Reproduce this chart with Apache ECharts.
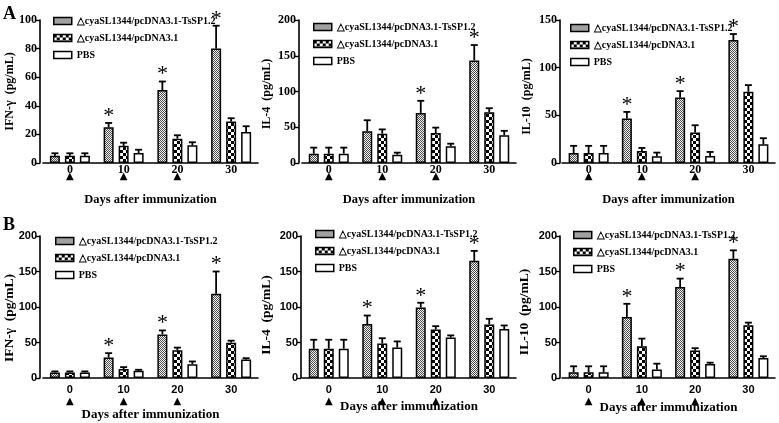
<!DOCTYPE html>
<html><head><meta charset="utf-8">
<script src="https://cdn.jsdelivr.net/npm/echarts@6/dist/echarts.min.js"></script>
<style>html,body{margin:0;padding:0;background:#fff}#c{width:779px;height:423px}</style>
</head><body><div id="c"></div>
<script>
// ---------- DATA ----------
const categories = ['0', '10', '20', '30'];
const immunizationDays = ['0', '10', '20'];
const seriesNames = ['△cyaSL1344/pcDNA3.1-TsSP1.2', '△cyaSL1344/pcDNA3.1', 'PBS'];
const xTitle = 'Days after immunization';

// Panel A - IFN-γ
const aIfnMean = [[5, 25, 51, 80], [5, 12, 17, 29], [5, 7, 12.4, 21.7]];
const aIfnErr  = [[1.8, 3, 6, 16], [1.8, 2.2, 2.4, 2.3], [1.8, 2.3, 2.1, 4]];
const aIfnSig  = [0, 1, 1, 1];
// Panel A - IL-4
const aIl4Mean = [[13, 44.4, 70, 143.5], [13, 41, 42, 71], [13, 11.7, 23.4, 38.8]];
const aIl4Err  = [[8.5, 15.4, 17, 21.5], [8.5, 6, 7.5, 5.6], [8.5, 2.8, 3.6, 6.2]];
const aIl4Sig  = [0, 0, 1, 1];
// Panel A - IL-10
const aIl10Mean = [[10.5, 46.6, 68.7, 129], [10.5, 12.6, 31.9, 74.7], [10.5, 7, 7.4, 19.6]];
const aIl10Err  = [[7.5, 7, 6.7, 6.3], [7.5, 3.2, 7.7, 7], [7.5, 3.9, 4.2, 6.4]];
const aIl10Sig  = [0, 1, 1, 1];
// Panel B - IFN-γ
const bIfnMean = [[7.9, 28.8, 61.4, 118.6], [7.9, 12.6, 39, 49.8], [7.9, 10.2, 19.5, 26]];
const bIfnErr  = [[1.4, 6.2, 5.6, 31.4], [1.4, 2.7, 3.8, 2.8], [1.4, 1.4, 3.8, 1.9]];
const bIfnSig  = [0, 1, 1, 1];
// Panel B - IL-4
const bIl4Mean = [[41.2, 75.9, 99.3, 165], [41.2, 48.7, 68.4, 75.4], [41.2, 43, 57, 68.9]];
const bIl4Err  = [[12.7, 12.1, 6.7, 14], [12.7, 7.3, 4.6, 8], [12.7, 8.5, 3, 5.1]];
const bIl4Sig  = [0, 1, 1, 1];
// Panel B - IL-10
const bIl10Mean = [[8, 86, 128, 168], [8, 44.7, 38.6, 74.4], [8, 11.8, 19.8, 28.2]];
const bIl10Err  = [[8.5, 18.5, 12, 11.8], [8.5, 10.8, 3.4, 3.6], [8.5, 8.4, 1.8, 2.4]];
const bIl10Sig  = [0, 1, 1, 1];

const yTitles = ['IFN-γ  (pg/mL)', 'IL-4  (pg/mL)', 'IL-10  (pg/mL)'];
const yMaxA = [100, 200, 150];
const yStepA = [20, 50, 50];
const yMaxB = [200, 200, 200];
const yStepB = [50, 50, 50];
const panelLetters = ['A', 'B'];

// ---------- LAYOUT / STYLE ----------
const panels = [
  {mean: aIfnMean, err: aIfnErr, sig: aIfnSig, yName: yTitles[0], max: yMaxA[0], step: yStepA[0], row: 0},
  {mean: aIl4Mean, err: aIl4Err, sig: aIl4Sig, yName: yTitles[1], max: yMaxA[1], step: yStepA[1], row: 0},
  {mean: aIl10Mean, err: aIl10Err, sig: aIl10Sig, yName: yTitles[2], max: yMaxA[2], step: yStepA[2], row: 0},
  {mean: bIfnMean, err: bIfnErr, sig: bIfnSig, yName: yTitles[0], max: yMaxB[0], step: yStepB[0], row: 1},
  {mean: bIl4Mean, err: bIl4Err, sig: bIl4Sig, yName: yTitles[1], max: yMaxB[1], step: yStepB[1], row: 1},
  {mean: bIl10Mean, err: bIl10Err, sig: bIl10Sig, yName: yTitles[2], max: yMaxB[2], step: yStepB[2], row: 1}
];
const gridLayout = [
  {left: 43, top: 20, width: 215, height: 143, yOff: 3, yGap: 24, yShift: 0, xGap: 30, lgLeft: 48, lgTop: 10},
  {left: 302, top: 20, width: 214, height: 143, yOff: 3, yGap: 26, yShift: 5, xGap: 30, lgLeft: 308, lgTop: 16},
  {left: 562, top: 20, width: 213, height: 143, yOff: 2, yGap: 27, yShift: 10, xGap: 30, lgLeft: 565, lgTop: 17},
  {left: 43, top: 236, width: 215, height: 142, yOff: 3, yGap: 23, yShift: 22, xGap: 30, lgLeft: 50, lgTop: 230},
  {left: 302, top: 236, width: 214, height: 142, yOff: 1, yGap: 27, yShift: 16, xGap: 22, lgLeft: 310, lgTop: 223},
  {left: 562, top: 236, width: 213, height: 142, yOff: 2, yGap: 28, yShift: 10, xGap: 23, lgLeft: 568, lgTop: 224}
];
const SERIF = 'Liberation Serif';
const SANS = 'Liberation Sans';
const BAR_W = 10;
const BAR_STEP = 15;

function makePattern(kind) {
  const c = document.createElement('canvas');
  const g = c.getContext('2d');
  if (kind === 'fine') {
    c.width = c.height = 2;
    g.fillStyle = '#f0f0f0'; g.fillRect(0, 0, 2, 2);
    g.fillStyle = '#505050'; g.fillRect(0, 0, 1, 1); g.fillRect(1, 1, 1, 1);
  } else {
    c.width = c.height = 6;
    g.fillStyle = '#ffffff'; g.fillRect(0, 0, 6, 6);
    g.fillStyle = '#000000'; g.fillRect(0, 0, 3, 3); g.fillRect(3, 3, 3, 3);
  }
  return {image: c, repetition: 'repeat'};
}
const fills = [makePattern('fine'), makePattern('check'), '#ffffff'];

const option = {
  animation: false,
  backgroundColor: '#fff',
  grid: [], xAxis: [], yAxis: [], legend: [], series: [],
  graphic: panelLetters.map((L, i) => ({
    type: 'text', left: 3, top: i === 0 ? 5 : 216,
    style: {text: L, font: 'bold 18px "Liberation Serif"', fill: '#000'}
  }))
};

panels.forEach((p, k) => {
  const L = gridLayout[k];
  const isA = p.row === 0;
  const tickFont = isA ? SERIF : SANS;
  const tickSize = isA ? 12 : 11;
  option.grid.push({left: L.left, top: L.top, width: L.width, height: L.height});
  option.xAxis.push({
    type: 'category', gridIndex: k, data: categories,
    name: xTitle, nameLocation: 'middle', nameGap: L.xGap, nameMoveOverlap: false,
    nameTextStyle: {fontFamily: SERIF, fontWeight: 'bold', fontSize: isA ? 12.5 : 13, color: '#000'},
    axisLine: {lineStyle: {color: '#000', width: 1.6}},
    axisTick: {alignWithLabel: true, length: 4, lineStyle: {color: '#000', width: 1.4}},
    axisLabel: {
      margin: isA ? 2 : 5,
      formatter: v => '{n|' + v + '}' + (immunizationDays.includes(v) ? '\n{t|▲}' : ''),
      rich: {
        n: {fontFamily: tickFont, fontWeight: 'bold', fontSize: tickSize, lineHeight: isA ? 9 : 13, color: '#000'},
        t: {fontFamily: 'DejaVu Sans', fontSize: 10, lineHeight: isA ? 5 : 10, color: '#000'}
      }
    }
  });
  option.yAxis.push({
    type: 'value', gridIndex: k, min: 0, max: p.max, interval: p.step, offset: L.yOff,
    name: p.yName, nameLocation: 'middle', nameGap: L.yGap, nameMoveOverlap: false,
    nameTextStyle: {fontFamily: SERIF, fontWeight: 'bold', fontSize: isA ? 12 : 13.5, color: '#000',
      padding: [0, L.yShift, 0, 0]},
    splitLine: {show: false},
    axisLine: {show: true, lineStyle: {color: '#000', width: 1.6}},
    axisTick: {show: true, length: 4, lineStyle: {color: '#000', width: 1.4}},
    axisLabel: {fontFamily: tickFont, fontWeight: 'bold', fontSize: tickSize, color: '#000', margin: 3}
  });
  option.legend.push({
    orient: 'vertical', left: L.lgLeft, top: L.lgTop, data: seriesNames,
    icon: 'rect', itemWidth: 18, itemHeight: 7, itemGap: 5, selectedMode: false,
    itemStyle: {borderColor: '#000', borderWidth: 1.5},
    textStyle: {fontFamily: SERIF, fontWeight: 'bold', fontSize: 10, color: '#000', lineHeight: 12}
  });
  p.mean.forEach((vals, s) => {
    option.series.push({
      type: 'bar', name: seriesNames[s], xAxisIndex: k, yAxisIndex: k,
      data: vals, barWidth: BAR_W, barGap: '50%', z: 2,
      itemStyle: {color: fills[s], borderColor: '#000', borderWidth: 1.5}
    });
  });
  const ebData = [];
  p.mean.forEach((vals, s) => vals.forEach((m, i) => {
    ebData.push([i, s, m, p.err[s][i], (s === 0 && p.sig[i]) ? 1 : 0]);
  }));
  option.series.push({
    type: 'custom', xAxisIndex: k, yAxisIndex: k, z: 5, data: ebData,
    encode: {x: 0, y: 2},
    renderItem: (params, api) => {
      const ci = api.value(0), si = api.value(1), m = api.value(2), e = api.value(3), star = api.value(4);
      const base = api.coord([ci, m]);
      const top = api.coord([ci, m + e]);
      const x = base[0] + (si - 1) * BAR_STEP;
      const ch = [
        {type: 'line', shape: {x1: x, y1: base[1], x2: x, y2: top[1]}, style: {stroke: '#000', lineWidth: 1.8}},
        {type: 'line', shape: {x1: x - 3.5, y1: top[1], x2: x + 3.5, y2: top[1]}, style: {stroke: '#000', lineWidth: 1.8}}
      ];
      if (star) ch.push({type: 'text', x: x, y: top[1] - 7,
        style: {text: '*', fontSize: 22, fontFamily: SERIF, fill: '#000', align: 'center', verticalAlign: 'middle'}});
      return {type: 'group', children: ch};
    }
  });
});

const chart = echarts.init(document.getElementById('c'), null, {renderer: 'canvas'});
chart.setOption(option);
</script>
</body></html>
